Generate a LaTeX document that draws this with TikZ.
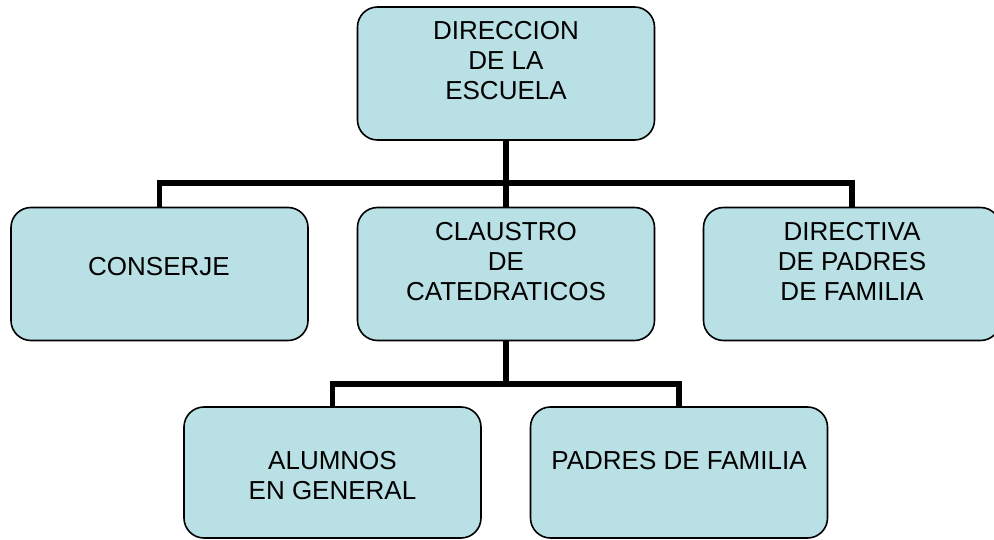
\documentclass[tikz,border=0pt]{standalone}
\usepackage{fontspec}
\setmainfont{Liberation Sans}
\definecolor{boxfill}{RGB}{185,224,228}
\begin{document}
\begin{tikzpicture}[x=1pt,y=-1pt,
  orgbox/.style={draw=black, line width=1.6pt, fill=boxfill, rounded corners=20pt,
    minimum width=297pt, minimum height=133pt, inner sep=0pt},
  boxtext/.style={font=\fontsize{26}{30}\selectfont, align=center, inner sep=0pt, text=black},
  link/.style={line width=5.5pt, draw=black}]
\clip (0,0) rectangle (994,540);
\fill[white] (0,0) rectangle (994,540);
% boxes
\node[orgbox] (dir) at (506,73.5) {};
\node[orgbox] (conserje) at (159.5,274) {};
\node[orgbox] (claustro) at (506,274) {};
\node[orgbox] (directiva) at (852,274) {};
\node[orgbox, minimum height=131pt] (alumnos) at (332.5,472.5) {};
\node[orgbox, minimum height=131pt] (padres) at (679,472.5) {};
% connectors
\coordinate (b1) at (506,183);
\coordinate (b2) at (506,384);
\draw[link] (dir.south) -- (claustro.north);
\draw[link] (conserje.north) |- (b1) -| (directiva.north);
\draw[link] (claustro.south) -- (b2);
\draw[link] (alumnos.north) |- (b2) -| (padres.north);
% texts
\node[boxtext] (tdir) at (506,61) {DIRECCION\\DE LA\\ESCUELA};
\node[boxtext] (tconserje) at (159,267) {CONSERJE};
\node[boxtext] (tclaustro) at (506,261.5) {CLAUSTRO\\DE\\CATEDRATICOS};
\node[boxtext] (tdirectiva) at (852,261) {DIRECTIVA\\DE PADRES\\DE FAMILIA};
\node[boxtext] (talumnos) at (332.5,476) {ALUMNOS\\EN GENERAL};
\node[boxtext] (tpadres) at (679,461) {PADRES DE FAMILIA};
\end{tikzpicture}
\end{document}
